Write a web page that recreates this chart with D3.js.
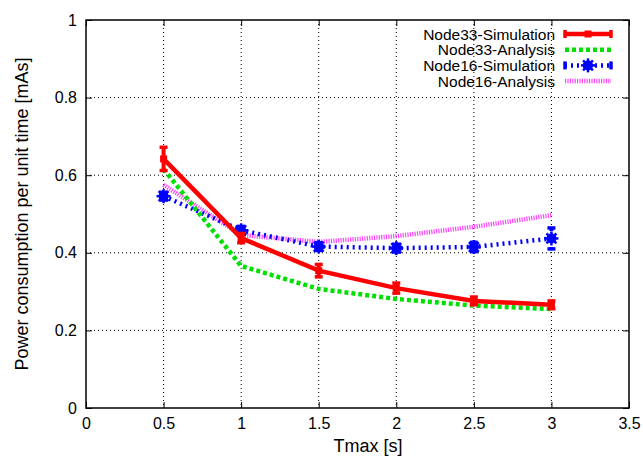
<!DOCTYPE html>
<html>
<head>
<meta charset="utf-8">
<script src="https://cdn.jsdelivr.net/npm/d3@7"></script>
<style>
  body { margin: 0; background: #fff; }
  text { font-family: "Liberation Sans", Arial, sans-serif; fill: #000; }
</style>
</head>
<body>
<svg id="canvas" width="643" height="456"></svg>
<script>
let tmax = [0.5, 1, 1.5, 2, 2.5, 3];
let node33Sim = [0.642, 0.438, 0.354, 0.309, 0.276, 0.266];
let node33SimErr = [0.03, 0.012, 0.016, 0.013, 0.01, 0.01];
let node33Ana = [0.616, 0.366, 0.307, 0.281, 0.264, 0.255];
let node16Sim = [0.546, 0.458, 0.416, 0.412, 0.415, 0.437];
let node16SimErr = [0.01, 0.01, 0.01, 0.01, 0.012, 0.027];
let node16Ana = [0.575, 0.446, 0.428, 0.443, 0.467, 0.497];
let xTicks = [0, 0.5, 1, 1.5, 2, 2.5, 3, 3.5];
let yTicks = [0, 0.2, 0.4, 0.6, 0.8, 1];

let svg = d3.select('#canvas');
let pLeft = 86, pRight = 629, pTop = 20, pBottom = 408;

let x = d3.scaleLinear().domain([0, 3.5]).range([pLeft, pRight]);
let y = d3.scaleLinear().domain([0, 1]).range([pBottom, pTop]);

// grid
svg.append('g').selectAll('line')
  .data(xTicks.slice(1, -1))
  .enter().append('line')
  .attr('x1', d => x(d)).attr('x2', d => x(d))
  .attr('y1', pTop).attr('y2', pBottom)
  .attr('stroke', '#000').attr('stroke-width', 1)
  .attr('stroke-dasharray', '1,3');
svg.append('g').selectAll('line')
  .data(yTicks.slice(1, -1))
  .enter().append('line')
  .attr('x1', pLeft).attr('x2', pRight)
  .attr('y1', d => y(d)).attr('y2', d => y(d))
  .attr('stroke', '#000').attr('stroke-width', 1)
  .attr('stroke-dasharray', '1,3');

// axes with inward ticks
let fmt = d => String(+d.toFixed(1));
let xAxis = svg.append('g').attr('transform', 'translate(0,' + pBottom + ')')
  .call(d3.axisBottom(x).tickValues(xTicks).tickSize(-6).tickPadding(10).tickFormat(fmt));
let xAxisTop = svg.append('g').attr('transform', 'translate(0,' + pTop + ')')
  .call(d3.axisTop(x).tickValues(xTicks).tickSize(-6).tickFormat(''));
let yAxis = svg.append('g').attr('transform', 'translate(' + pLeft + ',0)')
  .call(d3.axisLeft(y).tickValues(yTicks).tickSize(-6).tickPadding(9).tickFormat(fmt));
let yAxisRight = svg.append('g').attr('transform', 'translate(' + pRight + ',0)')
  .call(d3.axisRight(y).tickValues(yTicks).tickSize(-6).tickFormat(''));
[xAxis, xAxisTop, yAxis, yAxisRight].forEach(a => {
  a.select('.domain').remove();
  a.selectAll('line').attr('stroke', '#000');
  a.selectAll('text').style('font-size', '16px').style('font-family', '"Liberation Sans", Arial, sans-serif');
});
svg.append('rect')
  .attr('x', pLeft).attr('y', pTop)
  .attr('width', pRight - pLeft).attr('height', pBottom - pTop)
  .attr('fill', 'none').attr('stroke', '#000').attr('stroke-width', 1.5);

// titles
svg.append('text').attr('x', 368).attr('y', 452)
  .attr('text-anchor', 'middle').style('font-size', '18px').text('Tmax [s]');
svg.append('text').attr('transform', 'translate(28,214) rotate(-90)')
  .attr('text-anchor', 'middle').style('font-size', '18px').text('Power consumption per unit time [mAs]');

let series = [
  { name: 'Node33-Simulation', values: node33Sim, err: node33SimErr, color: '#ff0000', width: 4.5, dash: null, marker: 'square' },
  { name: 'Node33-Analysis', values: node33Ana, err: null, color: '#00e000', width: 4.5, dash: '4,3', marker: null },
  { name: 'Node16-Simulation', values: node16Sim, err: node16SimErr, color: '#0000ff', width: 4.5, dash: '2,4', marker: 'star' },
  { name: 'Node16-Analysis', values: node16Ana, err: null, color: '#ff44ff', width: 4.5, dash: '1.2,1.2', marker: null }
];

let line = d3.line().x(d => x(d[0])).y(d => y(d[1]));

function drawStar(g, color) {
  g.append('circle').attr('r', 5).attr('fill', color);
  [0, 45, 90, 135].forEach(a => {
    g.append('line')
      .attr('x1', -7).attr('x2', 7).attr('y1', 0).attr('y2', 0)
      .attr('transform', 'rotate(' + a + ')')
      .attr('stroke', color).attr('stroke-width', 2.5);
  });
}

// draw in reverse order so first series is on top
series.slice().reverse().forEach(s => {
  let pts = tmax.map((t, i) => [t, s.values[i]]);
  svg.append('path').datum(pts)
    .attr('d', line)
    .attr('fill', 'none')
    .attr('stroke', s.color)
    .attr('stroke-width', s.width)
    .attr('stroke-dasharray', s.dash);
  if (s.err) {
    let g = svg.append('g');
    let bars = g.selectAll('g').data(tmax.map((t, i) => [t, s.values[i], s.err[i]])).enter().append('g');
    bars.append('line')
      .attr('x1', d => x(d[0])).attr('x2', d => x(d[0]))
      .attr('y1', d => y(d[1] - d[2])).attr('y2', d => y(d[1] + d[2]))
      .attr('stroke', s.color).attr('stroke-width', 4).attr('stroke-dasharray', s.dash);
    [-1, 1].forEach(sign => {
      bars.append('line')
        .attr('x1', d => x(d[0]) - 4).attr('x2', d => x(d[0]) + 4)
        .attr('y1', d => y(d[1] + sign * d[2])).attr('y2', d => y(d[1] + sign * d[2]))
        .attr('stroke', s.color).attr('stroke-width', 3.5);
    });
    if (s.marker === 'square') {
      g.selectAll('rect.mk').data(pts).enter().append('rect')
        .attr('class', 'mk')
        .attr('x', d => x(d[0]) - 3.5).attr('y', d => y(d[1]) - 3.5)
        .attr('width', 7).attr('height', 7).attr('fill', s.color);
    } else {
      g.selectAll('g.mk').data(pts).enter().append('g')
        .attr('class', 'mk')
        .attr('transform', d => 'translate(' + x(d[0]) + ',' + y(d[1]) + ')')
        .each(function () { drawStar(d3.select(this), s.color); });
    }
  }
});

// legend
let legend = svg.append('g').selectAll('g').data(series).enter().append('g')
  .attr('transform', (d, i) => 'translate(0,' + (34 + i * 15.7) + ')');
legend.append('text')
  .attr('x', 555).attr('y', 5.5).attr('text-anchor', 'end')
  .style('font-size', '15.5px').text(d => d.name);
legend.append('line')
  .attr('x1', 565).attr('x2', 611).attr('y1', 0).attr('y2', 0)
  .attr('stroke', d => d.color).attr('stroke-width', 4.5)
  .attr('stroke-dasharray', d => d.dash);
legend.filter(d => d.err).each(function (d) {
  let g = d3.select(this);
  [565, 611].forEach(px => {
    g.append('line').attr('x1', px).attr('x2', px).attr('y1', -4).attr('y2', 4)
      .attr('stroke', d.color).attr('stroke-width', 3.5);
  });
  if (d.marker === 'square') {
    g.append('rect').attr('x', 584.5).attr('y', -3.5).attr('width', 7).attr('height', 7).attr('fill', d.color);
  } else {
    drawStar(g.append('g').attr('transform', 'translate(588,0)'), d.color);
  }
});
</script>
</body>
</html>
